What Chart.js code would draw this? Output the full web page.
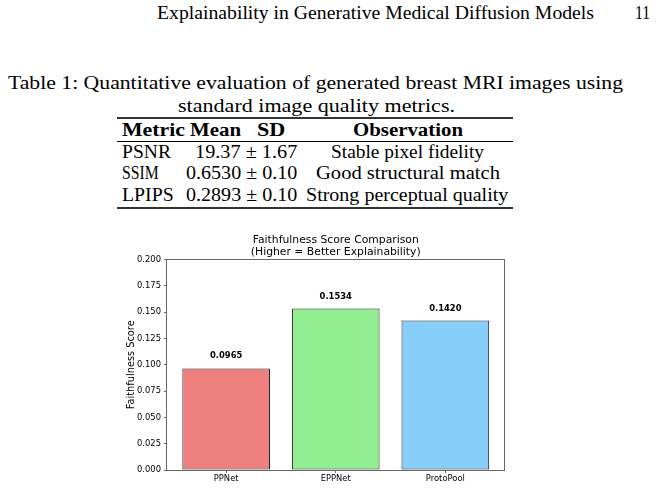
<!DOCTYPE html>
<html>
<head>
<meta charset="utf-8">
<script src="https://cdn.jsdelivr.net/npm/chart.js@4.4.1/dist/chart.umd.min.js"></script>
<style>
  html, body { margin: 0; background: #fff; }
  body { width: 667px; height: 488px; position: relative; overflow: hidden; font-family: "Liberation Serif", serif; color: #000; }
  .t { position: absolute; white-space: nowrap; font-size: 18px; line-height: 18px; transform-origin: 0 0; }
  .b { font-weight: bold; }
  .rule { position: absolute; left: 117px; width: 396px; background: #000; }
  #chartBox { position: absolute; left: 100px; top: 228px; width: 420px; height: 260px; }
</style>
</head>
<body>
<div class="rule" style="top:117.2px;height:1.6px;background:#333"></div>
<div class="rule" style="top:141.2px;height:1px"></div>
<div class="rule" style="top:207px;height:1.6px;background:#333"></div>
<div id="chartBox"><canvas id="chart" width="420" height="260"></canvas></div>
<script>
// page text
const pageHeader = 'Explainability in Generative Medical Diffusion Models'
const pageNumber = '11'
const captionLines = [
  'Table 1: Quantitative evaluation of generated breast MRI images using',
  'standard image quality metrics.'
]

// table
const tableHeads = ['Metric', 'Mean', 'SD', 'Observation']
const metrics = ['PSNR', 'SSIM', 'LPIPS']
const means = ['19.37', '0.6530', '0.2893']
const sds = ['1.67', '0.10', '0.10']
const observations = ['Stable pixel fidelity', 'Good structural match', 'Strong perceptual quality']

// chart
const chartTitle = ['Faithfulness Score Comparison', '(Higher = Better Explainability)']
const yAxisLabel = 'Faithfulness Score'
const categories = ['PPNet', 'EPPNet', 'ProtoPool']
const scores = [0.0965, 0.1534, 0.1420]
const yTicks = [0, 0.025, 0.05, 0.075, 0.1, 0.125, 0.15, 0.175, 0.2]
const barColors = ['#F08080', '#90EE90', '#87CEFA']

// put a line of text at a left edge and widen it to the width seen in the page
function addText(str, left, cy, w, cls) {
  const el = document.createElement('div')
  el.className = 't ' + (cls || '')
  el.textContent = str
  document.body.appendChild(el)
  const nat = el.getBoundingClientRect().width
  el.style.transform = `scaleX(${w / nat})`
  el.style.left = left + 'px'
  el.style.top = (cy - 9.5) + 'px'
}

addText(pageHeader, 157, 13, 437)
addText(pageNumber, 635, 13, 15)
addText(captionLines[0], 7.5, 83, 615)
addText(captionLines[1], 178, 106, 277)

addText(tableHeads[0], 121.7, 130, 63, 'b')
addText(tableHeads[1], 189.5, 130, 51, 'b')
addText(tableHeads[2], 256.7, 130, 28.3, 'b')
addText(tableHeads[3], 353, 130, 110, 'b')

const rowY = [152, 173.5, 195]
const metricW = [49, 36.7, 51.7]
const meanLeft = [195, 186, 186]
const obsCenter = 407.5
const obsW = [153, 184, 202.3]
metrics.forEach((m, i) => {
  addText(m, 121.7, rowY[i], metricW[i])
  addText(means[i] + ' \u00b1 ' + sds[i], meanLeft[i], rowY[i], 297.3 - meanLeft[i])
  addText(observations[i], obsCenter - obsW[i] / 2, rowY[i], obsW[i])
})

const sans = '"DejaVu Sans", sans-serif'

const extras = {
  id: 'extras',
  afterDraw(chart) {
    const { ctx, chartArea } = chart
    ctx.save()
    // axes frame
    ctx.strokeStyle = '#666'
    ctx.lineWidth = 1
    const l = Math.floor(chartArea.left) - 0.5
    const t = Math.floor(chartArea.top) + 0.5
    const r = Math.floor(chartArea.right) + 0.5
    const b = Math.floor(chartArea.bottom) + 0.5
    ctx.strokeRect(l, t, r - l, b - t)
    // title
    ctx.fillStyle = '#000'
    ctx.textAlign = 'center'
    ctx.textBaseline = 'middle'
    ctx.font = '10.8px ' + sans
    const cx = (chartArea.left + chartArea.right) / 2
    chartTitle.forEach((line, i) => ctx.fillText(line, cx, 12 + i * 12))
    // value labels
    ctx.font = 'bold 8.4px ' + sans
    ctx.textBaseline = 'alphabetic'
    chart.getDatasetMeta(0).data.forEach((bar, i) => {
      ctx.fillText(scores[i].toFixed(4), bar.x, bar.y - 10)
    })
    ctx.restore()
  }
}

new Chart(document.getElementById('chart'), {
  type: 'bar',
  data: {
    datasets: [{
      data: scores.map((v, i) => ({ x: i, y: v })),
      backgroundColor: barColors,
      borderColor: '#222',
      borderWidth: 1,
      borderSkipped: false,
      barPercentage: 0.8,
      categoryPercentage: 1
    }]
  },
  options: {
    responsive: false,
    animation: false,
    devicePixelRatio: 1,
    layout: { padding: { top: 31.5, right: 15.5, left: 0, bottom: 0 } },
    plugins: { legend: { display: false }, tooltip: { enabled: false } },
    scales: {
      x: {
        type: 'linear',
        offset: false,
        min: -0.54,
        max: 2.54,
        afterBuildTicks: scale => { scale.ticks = categories.map((c, i) => ({ value: i })) },
        afterFit: scale => { scale.height = 18 },
        border: { display: false },
        grid: { offset: false, drawOnChartArea: false, drawTicks: true, tickLength: 3, color: '#666' },
        ticks: {
          autoSkip: false,
          maxRotation: 0,
          padding: 1,
          color: '#000',
          font: { family: sans, size: 8.4 },
          callback: v => categories[v]
        }
      },
      y: {
        min: 0,
        max: 0.2,
        afterBuildTicks: scale => { scale.ticks = yTicks.map(v => ({ value: v })) },
        afterFit: scale => { scale.width = 67 },
        border: { display: false },
        grid: { drawOnChartArea: false, drawTicks: true, tickLength: 3, color: '#666' },
        ticks: {
          padding: 3,
          color: '#000',
          font: { family: sans, size: 8.4 },
          callback: v => v.toFixed(3)
        },
        title: {
          display: true,
          text: yAxisLabel,
          color: '#000',
          font: { family: sans, size: 9.8 },
          padding: { top: 26, bottom: 0 }
        }
      }
    }
  },
  plugins: [extras]
})
</script>
</body>
</html>
